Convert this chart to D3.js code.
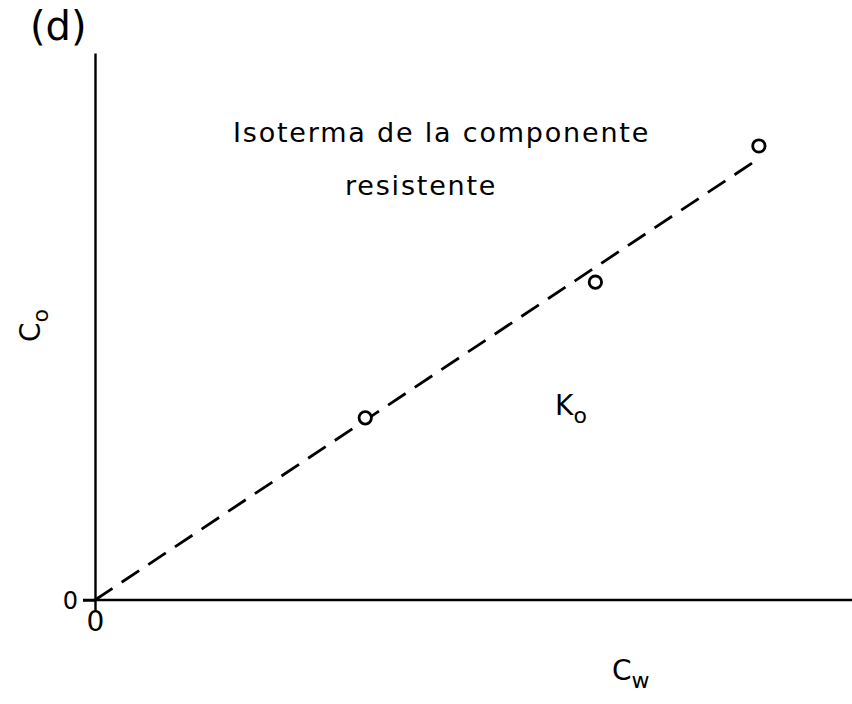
<!DOCTYPE html>
<html>
<head>
<meta charset="utf-8">
<script src="https://cdn.jsdelivr.net/npm/d3@7"></script>
<style>
  body { margin: 0; background: #fff; }
  svg text { font-family: "DejaVu Sans", sans-serif; fill: #000; }
</style>
</head>
<body>
<div id="chart"></div>
<script>
// measured points (arbitrary units, 0-100)
let cw = [35.7, 66.1, 87.7];
let co = [33.3, 58.1, 83.0];
// fitted isotherm (dashed)
let fitX = [0, 87.8];
let fitY = [0, 80.8];
let xTicks = [0];
let yTicks = [0];

function graph(id) {
	let width = 852, height = 704;
	let svg = d3.select(id).append("svg")
		.attr("width", width)
		.attr("height", height);

	let x = d3.scaleLinear().domain([0, 100]).range([95, 852]);
	let y = d3.scaleLinear().domain([0, 100]).range([600, 53]);

	// axes
	let xAxis = d3.axisBottom(x).tickValues(xTicks).tickSize(12).tickSizeOuter(0).tickFormat(d3.format("d"));
	let yAxis = d3.axisLeft(y).tickValues(yTicks).tickSize(12).tickSizeOuter(0).tickFormat(d3.format("d"));

	let gx = svg.append("g").attr("transform", `translate(0,${y(0)})`).call(xAxis);
	let gy = svg.append("g").attr("transform", `translate(${x(0)},0)`).call(yAxis);
	[gx, gy].forEach(g => {
		g.select(".domain").attr("stroke", "#000").attr("stroke-width", 2.4);
		g.selectAll(".tick line").attr("stroke", "#000").attr("stroke-width", 2.4);
	});
	gx.selectAll(".tick text").attr("font-size", 28).attr("dy", "0.72em").attr("y", 11);
	gy.selectAll(".tick text").attr("font-size", 24).attr("x", -17).attr("dy", "0.36em");
	// axis lines run across the origin a little
	gx.select(".domain").attr("d", `M${x(0) - 12},0H${x(100)}`);

	// dashed fit line
	let line = d3.line().x(d => x(d[0])).y(d => y(d[1]));
	svg.append("path")
		.datum(d3.zip(fitX, fitY))
		.attr("d", line)
		.attr("fill", "none")
		.attr("stroke", "#000")
		.attr("stroke-width", 2.8)
		.attr("stroke-dasharray", "21,11");

	// points
	svg.selectAll("circle.pt")
		.data(d3.zip(cw, co)).enter()
		.append("circle")
		.attr("class", "pt")
		.attr("cx", d => x(d[0]))
		.attr("cy", d => y(d[1]))
		.attr("r", 6.2)
		.attr("fill", "#fff")
		.attr("stroke", "#000")
		.attr("stroke-width", 2.8);

	// labels
	svg.append("text").attr("x", 30).attr("y", 40).attr("font-size", 40).text("(d)");
	svg.append("text").attr("x", 233).attr("y", 142).attr("font-size", 27)
		.attr("letter-spacing", "1.8px").text("Isoterma de la componente");
	svg.append("text").attr("x", 345).attr("y", 195).attr("font-size", 27)
		.attr("letter-spacing", "1.8px").text("resistente");

	let ko = svg.append("text").attr("x", 555).attr("y", 415).attr("font-size", 28);
	ko.append("tspan").text("K");
	ko.append("tspan").attr("dy", 8).attr("font-size", 22).text("o");

	let cwLabel = svg.append("text").attr("x", 612).attr("y", 680).attr("font-size", 28);
	cwLabel.append("tspan").text("C");
	cwLabel.append("tspan").attr("dy", 8).attr("font-size", 22).text("w");

	let coLabel = svg.append("text").attr("transform", "translate(40,342) rotate(-90)").attr("font-size", 28);
	coLabel.append("tspan").text("C");
	coLabel.append("tspan").attr("dy", 8).attr("font-size", 22).text("o");
}

graph("#chart");
</script>
</body>
</html>
